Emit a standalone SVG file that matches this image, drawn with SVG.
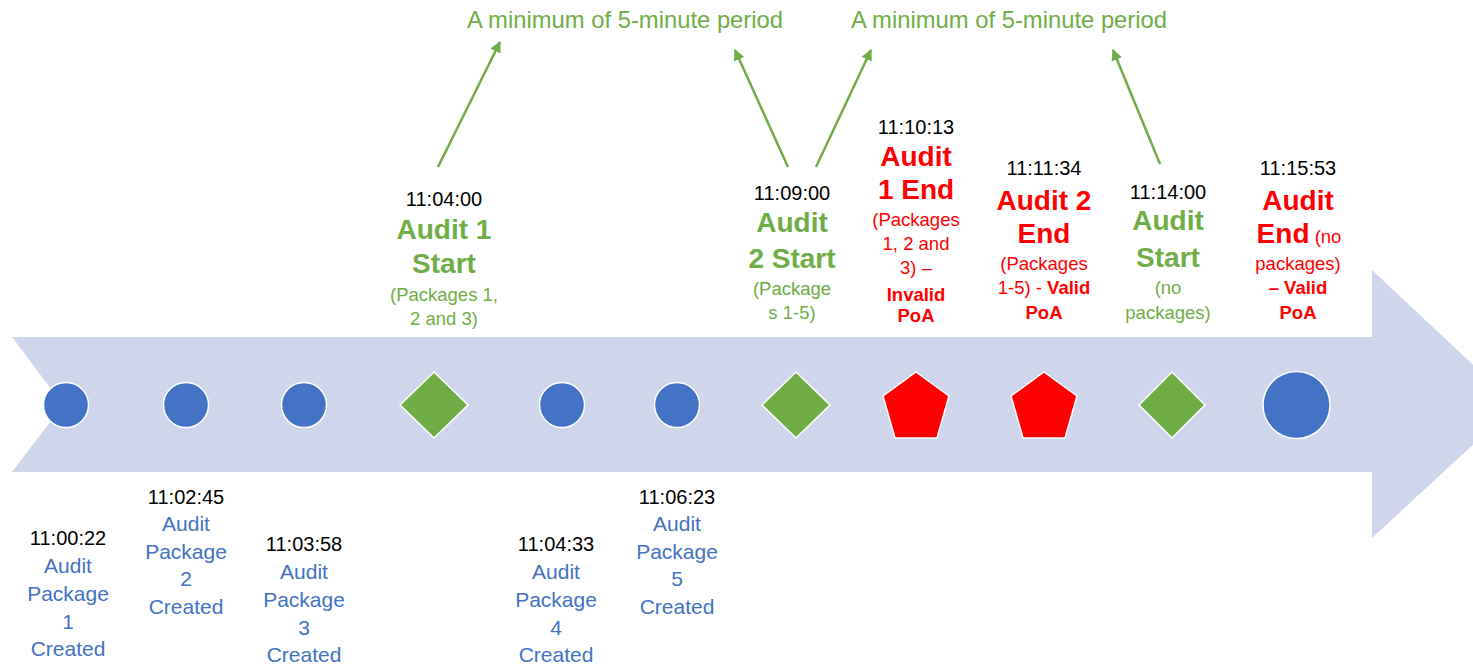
<svg xmlns="http://www.w3.org/2000/svg" width="1473" height="665" viewBox="0 0 1473 665">
<defs>
<style>
text{font-family:"Liberation Sans",Arial,sans-serif;text-anchor:middle}
.ts{font-size:20px;fill:#000}
.bl{font-size:21px;fill:#4472C4}
.gb{font-size:28px;font-weight:bold;fill:#70AD47}
.gs{font-size:18.5px;fill:#70AD47}
.rb{font-size:28px;font-weight:bold;fill:#FF0000}
.rs{font-size:18.5px;fill:#FF0000}
.rsb{font-size:18.5px;font-weight:bold;fill:#FF0000}
.lab{font-size:23.8px;fill:#70AD47}
.dot{fill:#4472C4;stroke:#fff;stroke-width:1.5}
.dia{fill:#70AD47;stroke:#fff;stroke-width:1.5}
.pent{fill:#FF0000;stroke:#fff;stroke-width:1.5}
.conn{stroke:#70AD47;stroke-width:2.5;fill:none;marker-end:url(#ah)}
</style>
<marker id="ah" viewBox="0 0 10 10" refX="9" refY="5" markerWidth="4.5" markerHeight="4.5" orient="auto" markerUnits="strokeWidth">
<path d="M0,0 L10,5 L0,10 z" fill="#70AD47"/>
</marker>
</defs>
<rect width="1473" height="665" fill="#fff"/>
<g id="timeline">
<polygon points="12,337 1372,337 1372,270 1516,405 1372,538 1372,472 12,472 63,405" fill="#CFD5EA"/>
</g>
<g id="labels">
<text class="lab" x="625" y="28">A minimum of 5-minute period</text>
<text class="lab" x="1009" y="28">A minimum of 5-minute period</text>
</g>
<g id="connectors">
<line class="conn" x1="438" y1="167" x2="500" y2="42"/>
<line class="conn" x1="788" y1="167" x2="735" y2="50"/>
<line class="conn" x1="816" y1="167" x2="871" y2="50"/>
<line class="conn" x1="1160" y1="164" x2="1113" y2="50"/>
</g>
<g id="pkg1">
<circle class="dot" cx="66" cy="405" r="22.5"/>
<text class="ts" x="68" y="545">11:00:22</text>
<text class="bl" x="68" y="573">Audit</text>
<text class="bl" x="68" y="601">Package</text>
<text class="bl" x="68" y="629">1</text>
<text class="bl" x="68" y="656">Created</text>
</g>
<g id="pkg2">
<circle class="dot" cx="186" cy="405" r="22.5"/>
<text class="ts" x="186" y="504">11:02:45</text>
<text class="bl" x="186" y="531">Audit</text>
<text class="bl" x="186" y="559">Package</text>
<text class="bl" x="186" y="586">2</text>
<text class="bl" x="186" y="614">Created</text>
</g>
<g id="pkg3">
<circle class="dot" cx="304" cy="405" r="22.5"/>
<text class="ts" x="304" y="551">11:03:58</text>
<text class="bl" x="304" y="579">Audit</text>
<text class="bl" x="304" y="607">Package</text>
<text class="bl" x="304" y="635">3</text>
<text class="bl" x="304" y="662">Created</text>
</g>
<g id="audit1start">
<polygon class="dia" points="434,372 468,405 434,438 400,405"/>
<text class="ts" x="444" y="206">11:04:00</text>
<text class="gb" x="444" y="239">Audit 1</text>
<text class="gb" x="444" y="273">Start</text>
<text class="gs" x="444" y="301">(Packages 1,</text>
<text class="gs" x="444" y="325">2 and 3)</text>
</g>
<g id="pkg4">
<circle class="dot" cx="562" cy="405" r="22.5"/>
<text class="ts" x="556" y="551">11:04:33</text>
<text class="bl" x="556" y="579">Audit</text>
<text class="bl" x="556" y="607">Package</text>
<text class="bl" x="556" y="635">4</text>
<text class="bl" x="556" y="662">Created</text>
</g>
<g id="pkg5">
<circle class="dot" cx="677" cy="405" r="22.5"/>
<text class="ts" x="677" y="504">11:06:23</text>
<text class="bl" x="677" y="531">Audit</text>
<text class="bl" x="677" y="559">Package</text>
<text class="bl" x="677" y="586">5</text>
<text class="bl" x="677" y="614">Created</text>
</g>
<g id="audit2start">
<polygon class="dia" points="796,372 830,405 796,438 762,405"/>
<text class="ts" x="792" y="200">11:09:00</text>
<text class="gb" x="792" y="232">Audit</text>
<text class="gb" x="792" y="268">2 Start</text>
<text class="gs" x="792" y="295">(Package</text>
<text class="gs" x="792" y="319">s 1-5)</text>
</g>
<g id="audit1end">
<polygon class="pent" points="916,372 949,396 937,438 895,438 883,396"/>
<text class="ts" x="916" y="134">11:10:13</text>
<text class="rb" x="916" y="166">Audit</text>
<text class="rb" x="916" y="199">1 End</text>
<text class="rs" x="916" y="226">(Packages</text>
<text class="rs" x="916" y="250">1, 2 and</text>
<text class="rs" x="916" y="274">3) –</text>
<text class="rsb" x="916" y="301">Invalid</text>
<text class="rsb" x="916" y="322">PoA</text>
</g>
<g id="audit2end">
<polygon class="pent" points="1044,372 1077,396 1065,438 1023,438 1011,396"/>
<text class="ts" x="1044" y="175">11:11:34</text>
<text class="rb" x="1044" y="210">Audit 2</text>
<text class="rb" x="1044" y="243">End</text>
<text class="rs" x="1044" y="270">(Packages</text>
<text class="rs" x="1044" y="294">1-5) - <tspan font-weight="bold">Valid</tspan></text>
<text class="rsb" x="1044" y="319">PoA</text>
</g>
<g id="audit3start">
<polygon class="dia" points="1172,372 1205,405 1172,438 1139,405"/>
<text class="ts" x="1168" y="199">11:14:00</text>
<text class="gb" x="1168" y="230">Audit</text>
<text class="gb" x="1168" y="267">Start</text>
<text class="gs" x="1168" y="294">(no</text>
<text class="gs" x="1168" y="319">packages)</text>
</g>
<g id="audit3end">
<circle class="dot" cx="1296.5" cy="405" r="33.5"/>
<text class="ts" x="1298" y="175">11:15:53</text>
<text class="rb" x="1298" y="210">Audit</text>
<text class="rb" x="1299" y="243">End<tspan font-size="18.5px" font-weight="normal"> (no</tspan></text>
<text class="rs" x="1298" y="270">packages)</text>
<text class="rsb" x="1298" y="294">– Valid</text>
<text class="rsb" x="1298" y="319">PoA</text>
</g>
</svg>
